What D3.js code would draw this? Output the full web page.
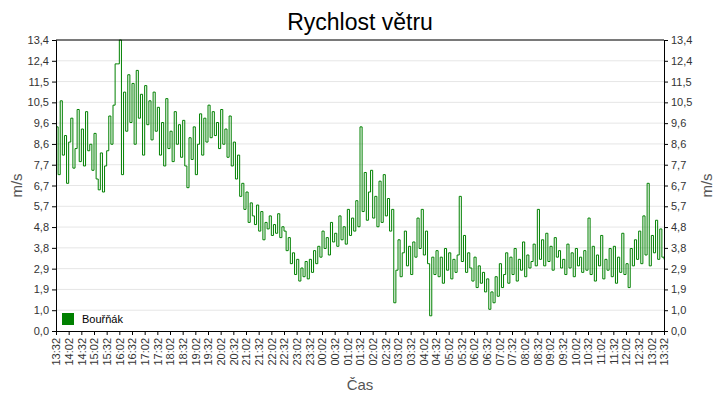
<!DOCTYPE html>
<html><head><meta charset="utf-8">
<script src="https://cdn.jsdelivr.net/npm/d3@7"></script>
<style>body{margin:0;background:#fff}text{font-family:"Liberation Sans",Arial,sans-serif}</style>
</head><body><svg id="c" width="720" height="400"></svg>
<script>
const seriesName = "Bouřňák";
const stepMinutes = 5;
const windSpeed = [
9.4,7.2,10.6,8.1,9.0,6.8,8.7,9.8,7.5,8.4,10.2,7.8,
9.3,7.6,10.1,8.3,8.6,7.4,9.1,7.0,6.5,8.2,6.4,7.6,
8.3,9.9,8.6,10.4,12.3,12.3,13.4,7.2,11.0,9.2,11.8,9.6,
11.4,8.6,12.0,9.8,10.9,8.1,11.3,9.5,10.6,8.8,11.0,9.2,
10.3,8.1,9.6,7.6,10.7,8.4,9.2,7.8,10.1,8.6,9.5,8.0,
9.7,7.6,6.6,8.9,7.9,9.4,7.2,8.6,10.0,8.1,9.8,8.7,
10.4,8.9,10.1,9.0,9.6,8.4,10.2,8.6,9.3,8.0,9.9,7.6,
8.7,7.0,8.1,6.2,6.8,5.6,6.4,5.0,5.9,5.3,4.9,5.8,
4.6,5.5,4.2,5.0,4.7,5.3,4.4,4.9,4.5,5.4,4.3,4.8,
4.6,3.7,4.3,3.1,3.6,2.6,3.3,2.3,2.9,2.5,3.2,2.4,
3.3,2.7,3.7,3.1,3.9,3.4,4.6,3.8,4.3,3.5,5.0,4.1,
4.5,3.9,5.3,4.2,4.8,4.0,5.6,4.4,5.2,4.6,6.0,4.8,
9.4,5.5,7.3,5.1,6.4,7.4,5.2,6.2,4.8,6.9,5.0,7.2,
5.3,6.1,4.6,5.6,1.3,2.8,4.2,2.5,3.6,4.6,3.0,3.9,
2.6,4.1,3.4,5.2,3.8,5.6,3.5,4.6,3.1,0.7,3.4,2.6,
3.7,2.5,3.4,2.2,3.8,2.8,3.6,2.4,3.3,2.7,3.5,6.2,
3.2,4.4,2.7,3.6,2.9,2.3,3.4,2.0,3.0,2.2,2.7,1.8,
2.4,1.0,1.8,1.3,2.5,1.6,3.1,2.0,2.6,3.6,2.2,3.4,
2.6,3.8,2.3,3.3,2.8,4.1,2.5,3.5,2.9,3.2,4.0,3.0,
5.6,3.3,4.2,3.0,4.5,3.2,3.9,2.8,4.3,3.4,3.7,2.9,
3.3,2.6,4.0,2.9,3.6,2.5,3.8,3.0,3.4,2.7,3.7,2.8,
5.2,2.6,3.9,2.3,3.5,3.0,4.4,2.4,3.3,2.8,3.8,2.5,
3.9,2.2,3.4,2.7,4.5,2.6,3.1,2.0,3.8,3.0,4.2,3.3,
4.6,3.1,5.3,3.5,6.8,3.0,4.4,3.6,5.1,3.3,4.7,3.4,
3.3];
const xTickLabels = ["13:32","14:02","14:32","15:02","15:32","16:02","16:32","17:02","17:32","18:02","18:32","19:02","19:32","20:02","20:32","21:02","21:32","22:02","22:32","23:02","23:32","00:02","00:32","01:02","01:32","02:02","02:32","03:02","03:32","04:02","04:32","05:02","05:32","06:02","06:32","07:02","07:32","08:02","08:32","09:02","09:32","10:02","10:32","11:02","11:32","12:02","12:32","13:02","13:32"];
const yTickLabels = ["0,0","1,0","1,9","2,9","3,8","4,8","5,7","6,7","7,7","8,6","9,6","10,5","11,5","12,4","13,4"];
const yMax = 13.4;

const svg = d3.select("#c");
const L=56,R=664,T=40,B=331;
const x = d3.scaleLinear().domain([0,1440]).range([L,R]);
const y = d3.scaleLinear().domain([0,yMax]).range([B,T]);
const yVals = yTickLabels.map((d,i)=>i*yMax/(yTickLabels.length-1));

svg.append("g").selectAll("line").data(yVals.slice(1)).join("line")
  .attr("x1",L).attr("x2",R).attr("y1",d=>y(d)).attr("y2",d=>y(d))
  .attr("stroke","#e6e6e6");

const line = d3.line().curve(d3.curveStepAfter).x((d,i)=>x(i*stepMinutes)).y(d=>y(d));
svg.append("path").datum(windSpeed).attr("d",line).attr("fill","none")
  .attr("stroke","#008000").attr("stroke-width",1);

svg.append("line").attr("x1",L).attr("x2",R).attr("y1",T).attr("y2",T).attr("stroke","#000");
const fmtY = (d,i)=>yTickLabels[i];
const ya = svg.append("g").attr("transform",`translate(${L},0)`).call(d3.axisLeft(y).tickValues(yVals).tickFormat(fmtY).tickSize(4).tickPadding(3));
const yb = svg.append("g").attr("transform",`translate(${R},0)`).call(d3.axisRight(y).tickValues(yVals).tickFormat(fmtY).tickSize(4).tickPadding(3));
const xa = svg.append("g").attr("transform",`translate(0,${B})`).call(d3.axisBottom(x).tickValues(xTickLabels.map((d,i)=>i*30)).tickFormat((d,i)=>xTickLabels[i]).tickSize(4));
xa.selectAll("text").attr("transform","rotate(-90)").attr("text-anchor","end").attr("x",-7).attr("y",0).attr("dy","0.35em");
[ya,yb,xa].forEach(g=>{g.selectAll("text").attr("font-size",11).attr("fill","#333").style("font-family","Liberation Sans, Arial, sans-serif");g.selectAll("path,line").attr("stroke","#000");});

svg.append("text").attr("x",360).attr("y",30).attr("text-anchor","middle").attr("font-size",23).attr("fill","#000").text("Rychlost větru");
svg.append("text").attr("x",360).attr("y",390).attr("text-anchor","middle").attr("font-size",15).attr("fill","#555").text("Čas");
svg.append("text").attr("transform",`translate(22,${(T+B)/2}) rotate(-90)`).attr("text-anchor","middle").attr("font-size",15).attr("fill","#555").text("m/s");
svg.append("text").attr("transform",`translate(712,${(T+B)/2}) rotate(-90)`).attr("text-anchor","middle").attr("font-size",15).attr("fill","#555").text("m/s");

svg.append("rect").attr("x",62).attr("y",313).attr("width",12).attr("height",12).attr("fill","#008000");
svg.append("text").attr("x",82).attr("y",323).attr("font-size",11).attr("fill","#000").text(seriesName);
</script></body></html>
